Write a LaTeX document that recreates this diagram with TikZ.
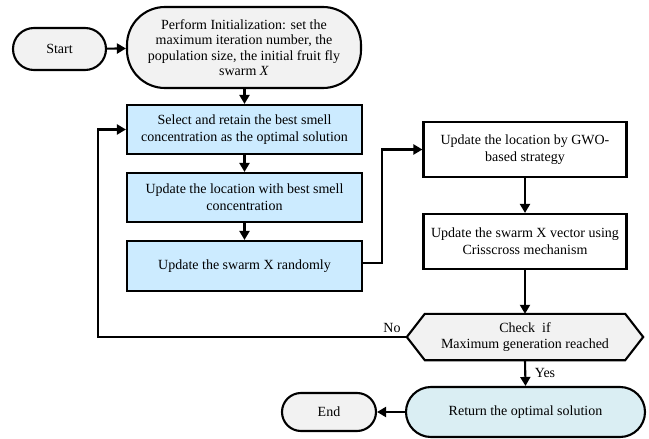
\documentclass[tikz,border=0pt]{standalone}
\usepackage{fontspec}
\setmainfont{Liberation Serif}
\usetikzlibrary{arrows.meta,calc}
\definecolor{boxblue}{RGB}{204,235,255}
\definecolor{retblue}{RGB}{218,238,243}
\definecolor{termgray}{RGB}{242,242,242}
\tikzset{
  base/.style={draw=black, line width=2.1pt, align=center, inner sep=2pt,
    font=\fontsize{14}{16.8}\selectfont},
  term/.style={base, fill=termgray, rounded corners=19pt},
  bluebox/.style={base, fill=boxblue, minimum width=235pt},
  whitebox/.style={base, fill=white, minimum width=203pt, minimum height=55pt},
  conn/.style={line width=2.1pt, -{Triangle[length=9pt,width=10pt]}},
  lbl/.style={font=\fontsize{14}{16.8}\selectfont, inner sep=1pt}
}
\begin{document}
\begin{tikzpicture}[x=1pt,y=-1pt]
\useasboundingbox (0,0) rectangle (649,439);
\node[term, minimum width=93pt, minimum height=42pt, rounded corners=21pt] (start) at (59.5,49) {Start};
\node[term, rounded corners=38pt, minimum width=234pt, minimum height=81pt, font=\fontsize{14}{15.3}\selectfont] (init) at (244,47.5)
  {Perform Initialization: set the\\maximum iteration number, the\\population size, the initial fruit fly\\swarm \textit{X}};
\node[bluebox, minimum height=49pt] (sel) at (244.5,129.5) {Select and retain the best smell\\concentration as the optimal solution};
\node[bluebox, minimum height=49pt] (loc) at (244.5,197.5) {Update the location with best smell\\concentration};
\node[bluebox, minimum height=50pt] (rnd) at (244.5,266) {Update the swarm X randomly};
\node[whitebox] (gwo) at (525,149.5) {Update the location by GWO-\\based strategy};
\node[whitebox] (cris) at (525,241.5) {Update the swarm X vector using\\Crisscross mechanism};
\node[minimum width=236pt, minimum height=46pt, inner sep=0pt] (chk) at (525,337) {};
\draw[line width=2.1pt, fill=termgray, line join=miter]
  (chk.west) -- ($(chk.north west)+(18,0)$) -- ($(chk.north east)+(-18,0)$) -- (chk.east)
  -- ($(chk.south east)+(-18,0)$) -- ($(chk.south west)+(18,0)$) -- cycle;
\node[lbl, align=center] (chktext) at (chk.center) {Check\ \ if\\Maximum generation reached};
\node[base, fill=retblue, rounded corners=25pt, minimum width=239pt, minimum height=50pt] (ret) at (525.5,412) {Return the optimal solution};
\node[term, minimum width=94pt, minimum height=38pt] (end) at (329,412) {End};
\coordinate (r1) at (382,263);
\coordinate (lp) at (98,337);
\draw[conn] (start) -- (init);
\draw[conn] (init.south -| sel.north) -- (sel.north);
\draw[conn] (sel) -- (loc);
\draw[conn] (loc) -- (rnd);
\draw[conn] (rnd.east |- r1) -- (r1) |- (gwo.west);
\draw[conn] (gwo) -- (cris);
\draw[conn] (cris.south) -- (cris.south |- chk.north);
\draw[conn] (chk.west) -- (lp) |- (sel.west);
\draw[conn] (chk.south) -- (ret.north);
\draw[conn] (ret.west) -- (end.east);
\node[lbl] (no) at (392,328) {No};
\node[lbl] (yes) at (545,373) {Yes};
\end{tikzpicture}
\end{document}
